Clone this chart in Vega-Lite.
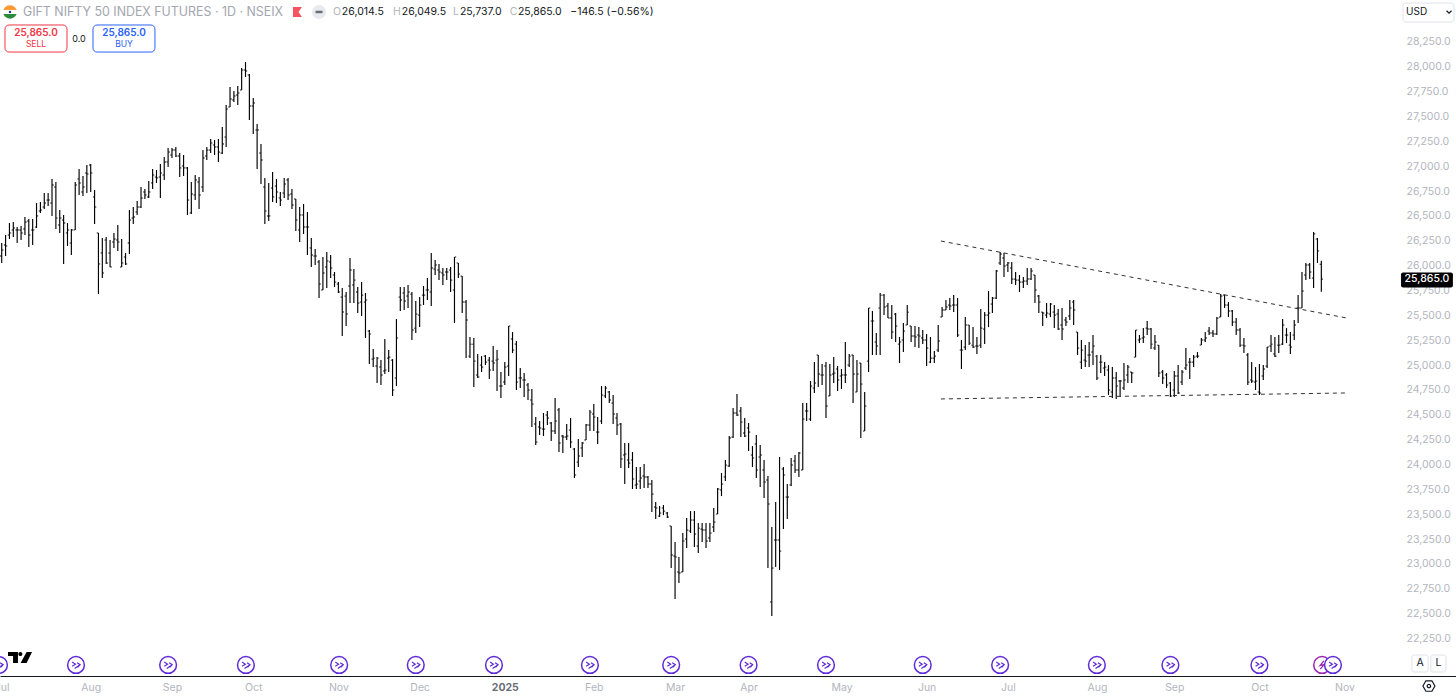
{"$schema":"https://vega.github.io/schema/vega-lite/v6.json","width":1456,"height":676,"autosize":{"type":"none"},"padding":{"left":0,"top":0,"right":0,"bottom":20},"background":"#ffffff","config":{"font":"Inter","view":{"stroke":null}},
"datasets":{"ohlc":[
{"i":0,"o":26097,"h":26228,"l":26027,"c":26158},{"i":1,"o":26208,"h":26308,"l":26097,"c":26198},{"i":2,"o":26308,"h":26429,"l":26268,"c":26329},{"i":3,"o":26359,"h":26439,"l":26288,"c":26379},{"i":4,"o":26359,"h":26389,"l":26228,"c":26359},{"i":5,"o":26359,"h":26399,"l":26258,"c":26329},{"i":6,"o":26369,"h":26490,"l":26308,"c":26439},{"i":7,"o":26449,"h":26469,"l":26188,"c":26308},{"i":8,"o":26359,"h":26469,"l":26208,"c":26359},{"i":9,"o":26389,"h":26630,"l":26379,"c":26500},
{"i":10,"o":26550,"h":26640,"l":26530,"c":26560},{"i":11,"o":26590,"h":26731,"l":26570,"c":26630},{"i":12,"o":26660,"h":26731,"l":26600,"c":26660},{"i":13,"o":26630,"h":26872,"l":26500,"c":26812},{"i":14,"o":26791,"h":26842,"l":26369,"c":26479},{"i":15,"o":26409,"h":26560,"l":26329,"c":26479},{"i":16,"o":26459,"h":26510,"l":26017,"c":26429},{"i":17,"o":26329,"h":26429,"l":26198,"c":26359},{"i":18,"o":26228,"h":26369,"l":26107,"c":26359},{"i":19,"o":26359,"h":26842,"l":26359,"c":26812},
{"i":20,"o":26872,"h":26973,"l":26711,"c":26832},{"i":21,"o":26741,"h":26902,"l":26701,"c":26791},{"i":22,"o":26932,"h":27013,"l":26731,"c":26922},{"i":23,"o":27013,"h":27023,"l":26741,"c":26932},{"i":24,"o":26691,"h":26761,"l":26419,"c":26590},{"i":25,"o":26329,"h":26329,"l":25715,"c":26017},{"i":26,"o":26128,"h":26278,"l":25876,"c":25926},{"i":27,"o":26258,"h":26288,"l":26017,"c":26027},{"i":28,"o":26128,"h":26258,"l":25986,"c":25986},{"i":29,"o":26238,"h":26329,"l":26178,"c":26268},
{"i":30,"o":26258,"h":26409,"l":26148,"c":26238},{"i":31,"o":25986,"h":26268,"l":25986,"c":26027},{"i":32,"o":26087,"h":26128,"l":26007,"c":26017},{"i":33,"o":26228,"h":26560,"l":26117,"c":26459},{"i":34,"o":26479,"h":26590,"l":26419,"c":26490},{"i":35,"o":26540,"h":26650,"l":26510,"c":26590},{"i":36,"o":26590,"h":26791,"l":26580,"c":26681},{"i":37,"o":26741,"h":26771,"l":26671,"c":26711},{"i":38,"o":26691,"h":26852,"l":26681,"c":26741},{"i":39,"o":26832,"h":26973,"l":26771,"c":26912},
{"i":40,"o":26892,"h":26962,"l":26832,"c":26882},{"i":41,"o":26892,"h":27023,"l":26681,"c":26932},{"i":42,"o":26912,"h":27093,"l":26862,"c":27043},{"i":43,"o":27043,"h":27184,"l":26993,"c":27143},{"i":44,"o":27113,"h":27184,"l":27083,"c":27163},{"i":45,"o":27163,"h":27194,"l":27093,"c":27103},{"i":46,"o":27103,"h":27133,"l":26892,"c":26983},{"i":47,"o":27003,"h":27113,"l":26902,"c":26983},{"i":48,"o":26983,"h":26993,"l":26510,"c":26660},{"i":49,"o":26530,"h":26842,"l":26520,"c":26721},
{"i":50,"o":26711,"h":26912,"l":26660,"c":26862},{"i":51,"o":26842,"h":26892,"l":26570,"c":26711},{"i":52,"o":26791,"h":27163,"l":26741,"c":27083},{"i":53,"o":27103,"h":27194,"l":27063,"c":27163},{"i":54,"o":27163,"h":27274,"l":27133,"c":27234},{"i":55,"o":27214,"h":27264,"l":27113,"c":27194},{"i":56,"o":27194,"h":27274,"l":27043,"c":27143},{"i":57,"o":27133,"h":27395,"l":27123,"c":27224},{"i":58,"o":27294,"h":27616,"l":27194,"c":27576},{"i":59,"o":27596,"h":27797,"l":27596,"c":27677},
{"i":60,"o":27666,"h":27757,"l":27646,"c":27707},{"i":61,"o":27717,"h":27807,"l":27616,"c":27737},{"i":62,"o":27767,"h":27988,"l":27767,"c":27968},{"i":63,"o":27968,"h":28049,"l":27898,"c":27958},{"i":64,"o":27918,"h":27928,"l":27465,"c":27606},{"i":65,"o":27606,"h":27687,"l":27324,"c":27636},{"i":66,"o":27365,"h":27425,"l":26973,"c":27365},{"i":67,"o":27133,"h":27224,"l":26822,"c":27063},{"i":68,"o":26791,"h":26882,"l":26419,"c":26550},{"i":69,"o":26500,"h":26832,"l":26449,"c":26500},
{"i":70,"o":26781,"h":26942,"l":26640,"c":26691},{"i":71,"o":26801,"h":26872,"l":26630,"c":26741},{"i":72,"o":26681,"h":26741,"l":26600,"c":26660},{"i":73,"o":26731,"h":26882,"l":26681,"c":26822},{"i":74,"o":26862,"h":26882,"l":26660,"c":26711},{"i":75,"o":26721,"h":26771,"l":26570,"c":26610},{"i":76,"o":26671,"h":26671,"l":26349,"c":26459},{"i":77,"o":26359,"h":26590,"l":26238,"c":26510},{"i":78,"o":26510,"h":26620,"l":26319,"c":26389},{"i":79,"o":26389,"h":26540,"l":26107,"c":26389},
{"i":80,"o":26178,"h":26278,"l":25986,"c":26107},{"i":81,"o":26097,"h":26168,"l":26007,"c":26097},{"i":82,"o":26037,"h":26057,"l":25675,"c":25815},{"i":83,"o":25755,"h":26087,"l":25755,"c":25926},{"i":84,"o":25986,"h":26138,"l":25775,"c":26047},{"i":85,"o":26037,"h":26107,"l":25875,"c":25976},{"i":86,"o":25906,"h":25936,"l":25785,"c":25835},{"i":87,"o":25815,"h":25835,"l":25725,"c":25735},{"i":88,"o":25684,"h":25775,"l":25292,"c":25534},{"i":89,"o":25694,"h":25735,"l":25393,"c":25513},
{"i":90,"o":25795,"h":26077,"l":25624,"c":25956},{"i":91,"o":25805,"h":25966,"l":25624,"c":25855},{"i":92,"o":25735,"h":25785,"l":25523,"c":25624},{"i":93,"o":25634,"h":25835,"l":25493,"c":25704},{"i":94,"o":25634,"h":25725,"l":25272,"c":25654},{"i":95,"o":25342,"h":25352,"l":25010,"c":25312},{"i":96,"o":25060,"h":25161,"l":24980,"c":25070},{"i":97,"o":24990,"h":25080,"l":24819,"c":25070},{"i":98,"o":24980,"h":25050,"l":24799,"c":24900},{"i":99,"o":24940,"h":25262,"l":24910,"c":24950},
{"i":100,"o":25070,"h":25151,"l":24930,"c":25080},{"i":101,"o":25050,"h":25060,"l":24689,"c":24749},{"i":102,"o":24870,"h":25463,"l":24789,"c":25272},{"i":103,"o":25684,"h":25785,"l":25544,"c":25654},{"i":104,"o":25725,"h":25785,"l":25554,"c":25644},{"i":105,"o":25694,"h":25805,"l":25574,"c":25735},{"i":106,"o":25714,"h":25735,"l":25252,"c":25352},{"i":107,"o":25372,"h":25644,"l":25322,"c":25513},{"i":108,"o":25503,"h":25684,"l":25382,"c":25604},{"i":109,"o":25704,"h":25795,"l":25604,"c":25704},
{"i":110,"o":25755,"h":25875,"l":25654,"c":25755},{"i":111,"o":25735,"h":26128,"l":25594,"c":25976},{"i":112,"o":25966,"h":26057,"l":25906,"c":26007},{"i":113,"o":25956,"h":26017,"l":25855,"c":25936},{"i":114,"o":25926,"h":25976,"l":25805,"c":25906},{"i":115,"o":25936,"h":25976,"l":25855,"c":25936},{"i":116,"o":25956,"h":25986,"l":25735,"c":25855},{"i":117,"o":25755,"h":26087,"l":25423,"c":26087},{"i":118,"o":26027,"h":26027,"l":25875,"c":25916},{"i":119,"o":25895,"h":25895,"l":25523,"c":25634},
{"i":120,"o":25634,"h":25654,"l":25070,"c":25453},{"i":121,"o":25090,"h":25282,"l":25070,"c":25211},{"i":122,"o":25211,"h":25272,"l":24779,"c":25040},{"i":123,"o":24900,"h":25111,"l":24870,"c":24880},{"i":124,"o":25000,"h":25090,"l":24930,"c":24980},{"i":125,"o":25090,"h":25101,"l":25000,"c":25030},{"i":126,"o":25050,"h":25080,"l":24860,"c":24950},{"i":127,"o":25040,"h":25191,"l":24940,"c":25020},{"i":128,"o":25050,"h":25151,"l":24739,"c":25060},{"i":129,"o":24789,"h":24930,"l":24668,"c":24789},
{"i":130,"o":24829,"h":25030,"l":24799,"c":24980},{"i":131,"o":24990,"h":25393,"l":24890,"c":25393},{"i":132,"o":25262,"h":25332,"l":25121,"c":25151},{"i":133,"o":25211,"h":25242,"l":24749,"c":24829},{"i":134,"o":24870,"h":24970,"l":24769,"c":24870},{"i":135,"o":24850,"h":24920,"l":24678,"c":24850},{"i":136,"o":24799,"h":24819,"l":24648,"c":24749},{"i":137,"o":24648,"h":24759,"l":24377,"c":24608},{"i":138,"o":24407,"h":24477,"l":24196,"c":24226},{"i":139,"o":24377,"h":24437,"l":24296,"c":24367},
{"i":140,"o":24356,"h":24518,"l":24286,"c":24356},{"i":141,"o":24497,"h":24537,"l":24397,"c":24467},{"i":142,"o":24417,"h":24427,"l":24236,"c":24336},{"i":143,"o":24336,"h":24668,"l":24306,"c":24437},{"i":144,"o":24548,"h":24568,"l":24125,"c":24216},{"i":145,"o":24286,"h":24296,"l":24115,"c":24276},{"i":146,"o":24276,"h":24407,"l":24246,"c":24286},{"i":147,"o":24346,"h":24467,"l":24166,"c":24226},{"i":148,"o":24155,"h":24166,"l":23864,"c":23894},{"i":149,"o":24024,"h":24256,"l":23974,"c":24085},
{"i":150,"o":24166,"h":24226,"l":24075,"c":24216},{"i":151,"o":24246,"h":24407,"l":24246,"c":24397},{"i":152,"o":24397,"h":24548,"l":24336,"c":24527},{"i":153,"o":24507,"h":24608,"l":24336,"c":24477},{"i":154,"o":24326,"h":24477,"l":24206,"c":24326},{"i":155,"o":24437,"h":24789,"l":24407,"c":24699},{"i":156,"o":24689,"h":24789,"l":24668,"c":24769},{"i":157,"o":24729,"h":24739,"l":24618,"c":24648},{"i":158,"o":24618,"h":24699,"l":24407,"c":24507},{"i":159,"o":24467,"h":24518,"l":24296,"c":24397},
{"i":160,"o":24407,"h":24417,"l":23964,"c":24055},{"i":161,"o":24095,"h":24216,"l":23803,"c":24105},{"i":162,"o":24045,"h":24216,"l":23964,"c":24014},{"i":163,"o":24045,"h":24125,"l":23753,"c":23854},{"i":164,"o":23793,"h":23974,"l":23753,"c":23803},{"i":165,"o":23833,"h":23974,"l":23753,"c":23864},{"i":166,"o":23884,"h":24004,"l":23763,"c":23874},{"i":167,"o":23874,"h":23884,"l":23763,"c":23803},{"i":168,"o":23803,"h":23843,"l":23521,"c":23702},{"i":169,"o":23572,"h":23622,"l":23451,"c":23562},
{"i":170,"o":23481,"h":23582,"l":23471,"c":23511},{"i":171,"o":23562,"h":23592,"l":23491,"c":23531},{"i":172,"o":23511,"h":23521,"l":23461,"c":23471},{"i":173,"o":23381,"h":23381,"l":22958,"c":23089},{"i":174,"o":23079,"h":23220,"l":22646,"c":23069},{"i":175,"o":22918,"h":23069,"l":22807,"c":22908},{"i":176,"o":22918,"h":23310,"l":22918,"c":23230},{"i":177,"o":23250,"h":23461,"l":23159,"c":23340},{"i":178,"o":23330,"h":23531,"l":23310,"c":23441},{"i":179,"o":23441,"h":23531,"l":23169,"c":23300},
{"i":180,"o":23179,"h":23411,"l":23109,"c":23360},{"i":181,"o":23350,"h":23411,"l":23220,"c":23340},{"i":182,"o":23340,"h":23411,"l":23159,"c":23230},{"i":183,"o":23260,"h":23411,"l":23220,"c":23310},{"i":184,"o":23371,"h":23562,"l":23320,"c":23421},{"i":185,"o":23501,"h":23763,"l":23501,"c":23753},{"i":186,"o":23743,"h":23914,"l":23682,"c":23803},{"i":187,"o":23874,"h":24045,"l":23833,"c":23994},{"i":188,"o":23984,"h":24286,"l":23974,"c":24266},{"i":189,"o":24276,"h":24568,"l":24266,"c":24518},
{"i":190,"o":24518,"h":24709,"l":24487,"c":24497},{"i":191,"o":24538,"h":24578,"l":24276,"c":24427},{"i":192,"o":24316,"h":24467,"l":24276,"c":24286},{"i":193,"o":24367,"h":24417,"l":24135,"c":24326},{"i":194,"o":24095,"h":24185,"l":23974,"c":24065},{"i":195,"o":24206,"h":24296,"l":23864,"c":23944},{"i":196,"o":24075,"h":24196,"l":23773,"c":24095},{"i":197,"o":23944,"h":24045,"l":23662,"c":23823},{"i":198,"o":23843,"h":23884,"l":22958,"c":23602},{"i":199,"o":22616,"h":23371,"l":22475,"c":22958},
{"i":200,"o":23240,"h":23622,"l":22968,"c":23240},{"i":201,"o":23240,"h":24075,"l":22938,"c":23129},{"i":202,"o":23954,"h":23974,"l":23350,"c":23894},{"i":203,"o":23672,"h":23803,"l":23451,"c":23672},{"i":204,"o":23793,"h":24065,"l":23783,"c":23994},{"i":205,"o":24035,"h":24095,"l":23914,"c":23944},{"i":206,"o":23944,"h":24125,"l":23874,"c":24115},{"i":207,"o":23944,"h":24618,"l":23944,"c":24457},{"i":208,"o":24538,"h":24618,"l":24437,"c":24538},{"i":209,"o":24457,"h":24839,"l":24437,"c":24789},
{"i":210,"o":24769,"h":25030,"l":24719,"c":24819},{"i":211,"o":25101,"h":25101,"l":24779,"c":24910},{"i":212,"o":24900,"h":25010,"l":24799,"c":24900},{"i":213,"o":24990,"h":25030,"l":24467,"c":24588},{"i":214,"o":24689,"h":25010,"l":24689,"c":24900},{"i":215,"o":24910,"h":25080,"l":24819,"c":24920},{"i":216,"o":24960,"h":24990,"l":24739,"c":24850},{"i":217,"o":24890,"h":24960,"l":24759,"c":24900},{"i":218,"o":24900,"h":25232,"l":24819,"c":24900},{"i":219,"o":25000,"h":25111,"l":24980,"c":25090},
{"i":220,"o":25101,"h":25101,"l":24618,"c":24910},{"i":221,"o":24729,"h":25050,"l":24729,"c":24910},{"i":222,"o":25020,"h":25020,"l":24266,"c":24809},{"i":223,"o":24336,"h":24729,"l":24336,"c":24588},{"i":224,"o":25040,"h":25574,"l":24930,"c":25574},{"i":225,"o":25443,"h":25544,"l":25101,"c":25443},{"i":226,"o":25232,"h":25322,"l":25101,"c":25191},{"i":227,"o":25574,"h":25725,"l":25101,"c":25704},{"i":228,"o":25704,"h":25714,"l":25503,"c":25584},{"i":229,"o":25594,"h":25624,"l":25473,"c":25473},
{"i":230,"o":25473,"h":25604,"l":25262,"c":25332},{"i":231,"o":25513,"h":25523,"l":25232,"c":25393},{"i":232,"o":25211,"h":25282,"l":25020,"c":25232},{"i":233,"o":25252,"h":25423,"l":25131,"c":25342},{"i":234,"o":25403,"h":25604,"l":25403,"c":25533},{"i":235,"o":25393,"h":25393,"l":25232,"c":25292},{"i":236,"o":25292,"h":25393,"l":25181,"c":25282},{"i":237,"o":25302,"h":25382,"l":25171,"c":25292},{"i":238,"o":25272,"h":25352,"l":25211,"c":25252},{"i":239,"o":25252,"h":25312,"l":24990,"c":25171},
{"i":240,"o":25030,"h":25282,"l":25020,"c":25070},{"i":241,"o":25070,"h":25141,"l":25020,"c":25090},{"i":242,"o":25151,"h":25403,"l":25131,"c":25242},{"i":243,"o":25483,"h":25584,"l":25483,"c":25554},{"i":244,"o":25554,"h":25654,"l":25554,"c":25584},{"i":245,"o":25604,"h":25674,"l":25554,"c":25594},{"i":246,"o":25604,"h":25704,"l":25533,"c":25604},{"i":247,"o":25604,"h":25674,"l":25282,"c":25302},{"i":248,"o":25151,"h":25252,"l":24960,"c":25151},{"i":249,"o":25181,"h":25483,"l":25151,"c":25403},
{"i":250,"o":25403,"h":25403,"l":25201,"c":25221},{"i":251,"o":25201,"h":25382,"l":25171,"c":25181},{"i":252,"o":25191,"h":25282,"l":25111,"c":25191},{"i":253,"o":25201,"h":25564,"l":25171,"c":25372},{"i":254,"o":25362,"h":25533,"l":25211,"c":25503},{"i":255,"o":25503,"h":25745,"l":25382,"c":25523},{"i":256,"o":25614,"h":25684,"l":25523,"c":25674},{"i":257,"o":25674,"h":25956,"l":25664,"c":25946},{"i":258,"o":26027,"h":26138,"l":26007,"c":26117},{"i":259,"o":26077,"h":26128,"l":25885,"c":25996},
{"i":260,"o":26007,"h":26037,"l":25936,"c":26027},{"i":261,"o":25976,"h":26037,"l":25815,"c":25865},{"i":262,"o":25865,"h":25936,"l":25805,"c":25855},{"i":263,"o":25855,"h":25906,"l":25735,"c":25835},{"i":264,"o":25835,"h":25885,"l":25775,"c":25845},{"i":265,"o":25845,"h":25976,"l":25805,"c":25865},{"i":266,"o":25865,"h":25976,"l":25855,"c":25946},{"i":267,"o":25906,"h":25906,"l":25624,"c":25755},{"i":268,"o":25694,"h":25704,"l":25523,"c":25634},{"i":269,"o":25533,"h":25533,"l":25393,"c":25523},
{"i":270,"o":25503,"h":25624,"l":25473,"c":25523},{"i":271,"o":25513,"h":25624,"l":25483,"c":25614},{"i":272,"o":25533,"h":25604,"l":25372,"c":25503},{"i":273,"o":25513,"h":25564,"l":25352,"c":25362},{"i":274,"o":25403,"h":25574,"l":25252,"c":25362},{"i":275,"o":25453,"h":25483,"l":25393,"c":25433},{"i":276,"o":25493,"h":25654,"l":25453,"c":25574},{"i":277,"o":25634,"h":25654,"l":25403,"c":25554},{"i":278,"o":25332,"h":25332,"l":25101,"c":25171},{"i":279,"o":25030,"h":25252,"l":24960,"c":25151},
{"i":280,"o":25050,"h":25201,"l":24980,"c":25040},{"i":281,"o":25101,"h":25232,"l":24980,"c":25101},{"i":282,"o":25131,"h":25302,"l":25000,"c":25191},{"i":283,"o":25090,"h":25101,"l":24850,"c":24870},{"i":284,"o":25030,"h":25101,"l":24920,"c":25030},{"i":285,"o":24970,"h":25030,"l":24890,"c":24980},{"i":286,"o":24950,"h":25000,"l":24699,"c":24749},{"i":287,"o":24729,"h":24980,"l":24668,"c":24870},{"i":288,"o":24870,"h":24930,"l":24658,"c":24789},{"i":289,"o":24839,"h":24850,"l":24678,"c":24839},
{"i":290,"o":24769,"h":25020,"l":24749,"c":24850},{"i":291,"o":24900,"h":25000,"l":24819,"c":24980},{"i":292,"o":24930,"h":24930,"l":24819,"c":24920},{"i":293,"o":25080,"h":25352,"l":25080,"c":25352},{"i":294,"o":25252,"h":25302,"l":25221,"c":25262},{"i":295,"o":25272,"h":25372,"l":25221,"c":25282},{"i":296,"o":25372,"h":25443,"l":25302,"c":25362},{"i":297,"o":25362,"h":25372,"l":25161,"c":25211},{"i":298,"o":25171,"h":25302,"l":25151,"c":25232},{"i":299,"o":25201,"h":25201,"l":24880,"c":24920},
{"i":300,"o":24930,"h":24950,"l":24809,"c":24870},{"i":301,"o":24900,"h":24920,"l":24769,"c":24799},{"i":302,"o":24819,"h":24829,"l":24678,"c":24689},{"i":303,"o":24749,"h":24940,"l":24678,"c":24890},{"i":304,"o":24890,"h":25000,"l":24709,"c":24719},{"i":305,"o":24829,"h":24950,"l":24799,"c":24930},{"i":306,"o":24970,"h":25171,"l":24950,"c":25000},{"i":307,"o":25030,"h":25070,"l":24860,"c":25030},{"i":308,"o":25030,"h":25101,"l":24980,"c":25080},{"i":309,"o":25090,"h":25131,"l":25070,"c":25090},
{"i":310,"o":25201,"h":25272,"l":25201,"c":25252},{"i":311,"o":25252,"h":25332,"l":25232,"c":25272},{"i":312,"o":25342,"h":25382,"l":25302,"c":25322},{"i":313,"o":25322,"h":25352,"l":25282,"c":25312},{"i":314,"o":25312,"h":25483,"l":25302,"c":25473},{"i":315,"o":25483,"h":25714,"l":25483,"c":25694},{"i":316,"o":25704,"h":25704,"l":25574,"c":25604},{"i":317,"o":25604,"h":25634,"l":25483,"c":25544},{"i":318,"o":25544,"h":25554,"l":25393,"c":25433},{"i":319,"o":25433,"h":25473,"l":25302,"c":25352},
{"i":320,"o":25352,"h":25372,"l":25181,"c":25201},{"i":321,"o":25201,"h":25272,"l":25121,"c":25191},{"i":322,"o":25101,"h":25121,"l":24799,"c":24829},{"i":323,"o":24850,"h":25030,"l":24819,"c":24839},{"i":324,"o":24829,"h":24980,"l":24749,"c":24839},{"i":325,"o":24729,"h":25010,"l":24699,"c":24719},{"i":326,"o":24890,"h":25000,"l":24850,"c":24960},{"i":327,"o":24990,"h":25181,"l":24970,"c":25181},{"i":328,"o":25191,"h":25302,"l":25131,"c":25211},{"i":329,"o":25111,"h":25282,"l":25080,"c":25090},
{"i":330,"o":25201,"h":25302,"l":25121,"c":25201},{"i":331,"o":25211,"h":25463,"l":25201,"c":25403},{"i":332,"o":25302,"h":25372,"l":25221,"c":25302},{"i":333,"o":25201,"h":25332,"l":25111,"c":25181},{"i":334,"o":25302,"h":25453,"l":25252,"c":25403},{"i":335,"o":25574,"h":25704,"l":25423,"c":25574},{"i":336,"o":25574,"h":25936,"l":25574,"c":25745},{"i":337,"o":25906,"h":26027,"l":25855,"c":26007},{"i":338,"o":26007,"h":26027,"l":25865,"c":25936},{"i":339,"o":25875,"h":26339,"l":25775,"c":26319},
{"i":340,"o":26268,"h":26278,"l":26027,"c":26148},{"i":341,"o":26014.5,"h":26049.5,"l":25737,"c":25865}],
"trend":[{"line":"upper","bar":242.7,"price":26248},{"line":"upper","bar":347.6,"price":25473},{"line":"lower","bar":242.7,"price":24659},{"line":"lower","bar":347.1,"price":24719}],
"events":[{"bar":-0.7},{"bar":19.2},{"bar":43},{"bar":63.1},{"bar":87.2},{"bar":107},{"bar":127.2},{"bar":152},{"bar":173},{"bar":193},{"bar":213},{"bar":238},{"bar":258},{"bar":283},{"bar":302},{"bar":325},{"bar":344}]},
"layer":[
{"data":{"name":"ohlc"},"mark":{"type":"rule","color":"#000000","strokeWidth":1.15},"encoding":{"x":{"field":"i","type":"quantitative","scale":{"domain":[-0.44,375.8],"nice":false,"zero":false},"axis":{"title":null,"orient":"bottom","grid":false,"ticks":false,"domain":true,"domainColor":"#131722","domainWidth":1,"labelColor":{"condition":{"test":"datum.value===130","value":"#6a6d78"},"value":"#b2b5be"},"labelFontWeight":{"condition":{"test":"datum.value===130","value":"bold"},"value":"normal"},"labelFontSize":10.5,"labelPadding":6,"labelOverlap":false,"labelFlush":false,"labelBound":false,"tickCount":17,"values":[0,23,44,65,87,108,130,153,174,193,217,239,260,283,303,325,347],"labelExpr":"{'0':'Jul','23':'Aug','44':'Sep','65':'Oct','87':'Nov','108':'Dec','130':'2025','153':'Feb','174':'Mar','193':'Apr','217':'May','239':'Jun','260':'Jul','283':'Aug','303':'Sep','325':'Oct','347':'Nov'}[''+datum.value]"}},"y":{"field":"l","type":"quantitative","scale":{"domain":[21871.9,28672.5],"nice":false,"zero":false},"axis":{"title":null,"orient":"right","offset":-56,"grid":false,"ticks":false,"domain":false,"labelColor":"#b2b5be","labelFontSize":10.5,"labelPadding":6,"labelAlign":"left","labelOverlap":false,"format":",.1f","tickCount":25,"values":[22250,22500,22750,23000,23250,23500,23750,24000,24250,24500,24750,25000,25250,25500,25750,26000,26250,26500,26750,27000,27250,27500,27750,28000,28250]}},"y2":{"field":"h"}}},
{"data":{"name":"ohlc"},"mark":{"type":"tick","orient":"horizontal","color":"#000000","size":1.6,"thickness":0.9,"xOffset":-0.9,"opacity":1},"encoding":{"x":{"field":"i","type":"quantitative"},"y":{"field":"o","type":"quantitative"}}},
{"data":{"name":"ohlc"},"mark":{"type":"tick","orient":"horizontal","color":"#000000","size":1.6,"thickness":0.9,"xOffset":0.9,"opacity":1},"encoding":{"x":{"field":"i","type":"quantitative"},"y":{"field":"c","type":"quantitative"}}},
{"data":{"name":"trend"},"mark":{"type":"line","color":"#333333","strokeWidth":1,"strokeDash":[4,4]},"encoding":{"x":{"field":"bar","type":"quantitative"},"y":{"field":"price","type":"quantitative"},"detail":{"field":"line"}}},
{"data":{"values":[{}]},"mark":{"type":"rect","color":"#000000","cornerRadius":2},"encoding":{"x":{"datum":361.6},"x2":{"datum":375},"y":{"datum":25931},"y2":{"datum":25780}}},
{"data":{"values":[{}]},"mark":{"type":"text","text":"25,865.0","color":"#ffffff","fontSize":10.5,"fontWeight":500},"encoding":{"x":{"datum":368.3},"y":{"datum":25865}}},
{"data":{"values":[{"bar":341.2}]},"mark":{"type":"point","shape":"circle","size":280,"fill":"#ffffff","stroke":"#9c27b0","strokeWidth":1.5,"opacity":1},"encoding":{"x":{"field":"bar","type":"quantitative"},"y":{"datum":21983}}},
{"data":{"values":[{"bar":341.2}]},"mark":{"type":"point","shape":"M0.3,-0.7 L-0.35,0.1 L0.35,-0.1 L-0.3,0.7","size":140,"filled":false,"stroke":"#9c27b0","strokeWidth":1.3,"opacity":1},"encoding":{"x":{"field":"bar","type":"quantitative"},"y":{"datum":21983}}},
{"data":{"name":"events"},"mark":{"type":"point","shape":"circle","size":280,"fill":"#ffffff","stroke":"#5f2bd8","strokeWidth":1.5,"opacity":1},"encoding":{"x":{"field":"bar","type":"quantitative"},"y":{"datum":21983}}},
{"data":{"name":"events"},"mark":{"type":"point","shape":"M-0.7,-0.55 L-0.1,-0.15 L-0.7,0.25 M-0.25,0.65 L0.75,-0.05 M0.2,-0.4 L0.75,-0.05 L0.35,0.4","size":120,"filled":false,"stroke":"#5f2bd8","strokeWidth":1.2,"opacity":1},"encoding":{"x":{"field":"bar","type":"quantitative"},"y":{"datum":21983}}},
{"data":{"values":[{}]},"mark":{"type":"point","shape":"M-1,-0.46 H-0.17 V0.46 H-0.58 V-0.12 H-1 Z M0.03,-0.46 a0.17,0.17 0 1 0 0.001,0 Z M0.55,-0.46 H1 L0.55,0.46 H0.05 Z","size":576,"filled":true,"color":"#000000","strokeWidth":0,"opacity":1},"encoding":{"x":{"datum":4.73},"y":{"datum":22058}}},
{"data":{"values":[{}]},"mark":{"type":"point","shape":"M-0.94,-0.3 A1,1 0 0 1 0.94,-0.3 Z","size":196,"filled":true,"color":"#ff9933","strokeWidth":0,"opacity":1},"encoding":{"x":{"datum":2.14},"y":{"datum":28552}}},
{"data":{"values":[{}]},"mark":{"type":"point","shape":"M-0.94,0.3 A1,1 0 0 0 0.94,0.3 Z","size":196,"filled":true,"color":"#2e8b3d","strokeWidth":0,"opacity":1},"encoding":{"x":{"datum":2.14},"y":{"datum":28552}}},
{"data":{"values":[{}]},"mark":{"type":"point","shape":"circle","size":6,"filled":true,"color":"#1a3a8a","opacity":1},"encoding":{"x":{"datum":2.14},"y":{"datum":28552}}},
{"data":{"values":[{}]},"mark":{"type":"text","text":"GIFT NIFTY 50 INDEX FUTURES · 1D · NSEIX","align":"left","color":"#a3a6af","fontSize":12.4},"encoding":{"x":{"datum":5.5},"y":{"datum":28552}}},
{"data":{"values":[{}]},"mark":{"type":"point","shape":"M-0.8,-1 H1 L0.3,0 L1,1 H-0.8 Z","size":100,"filled":true,"color":"#f7525f","strokeWidth":0,"opacity":1},"encoding":{"x":{"datum":76.3},"y":{"datum":28552}}},
{"data":{"values":[{}]},"mark":{"type":"point","shape":"circle","size":196,"filled":true,"color":"#e8eaef","opacity":1},"encoding":{"x":{"datum":82},"y":{"datum":28552}}},
{"data":{"values":[{}]},"mark":{"type":"point","shape":"M-1,-0.35 H1 V0.35 H-1 Z","size":49,"filled":true,"color":"#6a6d78","strokeWidth":0,"opacity":1},"encoding":{"x":{"datum":82},"y":{"datum":28552}}},
{"data":{"values":[{}]},"mark":{"type":"text","text":"O","align":"left","color":"#b2b5be","fontSize":10.5},"encoding":{"x":{"datum":85.6},"y":{"datum":28552}}},
{"data":{"values":[{}]},"mark":{"type":"text","text":"26,014.5","align":"left","color":"#131722","fontSize":10.5},"encoding":{"x":{"datum":87.9},"y":{"datum":28552}}},
{"data":{"values":[{}]},"mark":{"type":"text","text":"H","align":"left","color":"#b2b5be","fontSize":10.5},"encoding":{"x":{"datum":101.1},"y":{"datum":28552}}},
{"data":{"values":[{}]},"mark":{"type":"text","text":"26,049.5","align":"left","color":"#131722","fontSize":10.5},"encoding":{"x":{"datum":103.4},"y":{"datum":28552}}},
{"data":{"values":[{}]},"mark":{"type":"text","text":"L","align":"left","color":"#b2b5be","fontSize":10.5},"encoding":{"x":{"datum":116.6},"y":{"datum":28552}}},
{"data":{"values":[{}]},"mark":{"type":"text","text":"25,737.0","align":"left","color":"#131722","fontSize":10.5},"encoding":{"x":{"datum":118.4},"y":{"datum":28552}}},
{"data":{"values":[{}]},"mark":{"type":"text","text":"C","align":"left","color":"#b2b5be","fontSize":10.5},"encoding":{"x":{"datum":131.3},"y":{"datum":28552}}},
{"data":{"values":[{}]},"mark":{"type":"text","text":"25,865.0","align":"left","color":"#131722","fontSize":10.5},"encoding":{"x":{"datum":133.4},"y":{"datum":28552}}},
{"data":{"values":[{}]},"mark":{"type":"text","text":"−146.5 (−0.56%)","align":"left","color":"#131722","fontSize":10.5},"encoding":{"x":{"datum":146.9},"y":{"datum":28552}}},
{"data":{"values":[{}]},"mark":{"type":"rect","fill":"#ffffff","stroke":"#f23645","strokeWidth":1,"cornerRadius":4},"encoding":{"x":{"datum":0.85},"x2":{"datum":16.87},"y":{"datum":28421},"y2":{"datum":28149}}},
{"data":{"values":[{}]},"mark":{"type":"text","text":"25,865.0","color":"#f23645","fontSize":10,"fontWeight":600},"encoding":{"x":{"datum":8.86},"y":{"datum":28340}}},
{"data":{"values":[{}]},"mark":{"type":"text","text":"SELL","color":"#f23645","fontSize":8.5},"encoding":{"x":{"datum":8.86},"y":{"datum":28230}}},
{"data":{"values":[{}]},"mark":{"type":"text","text":"0.0","color":"#131722","fontSize":9},"encoding":{"x":{"datum":19.97},"y":{"datum":28280}}},
{"data":{"values":[{}]},"mark":{"type":"rect","fill":"#ffffff","stroke":"#2962ff","strokeWidth":1,"cornerRadius":4},"encoding":{"x":{"datum":23.59},"x2":{"datum":39.6},"y":{"datum":28421},"y2":{"datum":28149}}},
{"data":{"values":[{}]},"mark":{"type":"text","text":"25,865.0","color":"#2962ff","fontSize":10,"fontWeight":600},"encoding":{"x":{"datum":31.6},"y":{"datum":28340}}},
{"data":{"values":[{}]},"mark":{"type":"text","text":"BUY","color":"#2962ff","fontSize":8.5},"encoding":{"x":{"datum":31.6},"y":{"datum":28230}}},
{"data":{"values":[{}]},"mark":{"type":"rect","fill":"#ffffff","stroke":"#e0e3eb","strokeWidth":1,"cornerRadius":3},"encoding":{"x":{"datum":362.1},"x2":{"datum":375.3},"y":{"datum":28642},"y2":{"datum":28451}}},
{"data":{"values":[{}]},"mark":{"type":"text","text":"USD","align":"left","color":"#131722","fontSize":10},"encoding":{"x":{"datum":362.9},"y":{"datum":28552}}},
{"data":{"values":[{}]},"mark":{"type":"point","shape":"M-1,-0.5 L0,0.5 L1,-0.5","size":25,"filled":false,"stroke":"#131722","strokeWidth":1.2,"opacity":1},"encoding":{"x":{"datum":374},"y":{"datum":28552}}},
{"data":{"values":[{}]},"mark":{"type":"rect","fill":"#ffffff","stroke":"#e0e3eb","strokeWidth":1,"cornerRadius":2},"encoding":{"x":{"datum":364.4},"x2":{"datum":368.6},"y":{"datum":22083},"y2":{"datum":21912}}},
{"data":{"values":[{}]},"mark":{"type":"text","text":"A","color":"#131722","fontSize":10.5},"encoding":{"x":{"datum":366.5},"y":{"datum":21998}}},
{"data":{"values":[{}]},"mark":{"type":"rect","fill":"#ffffff","stroke":"#e0e3eb","strokeWidth":1,"cornerRadius":2},"encoding":{"x":{"datum":369.3},"x2":{"datum":373.2},"y":{"datum":22083},"y2":{"datum":21912}}},
{"data":{"values":[{}]},"mark":{"type":"text","text":"L","color":"#131722","fontSize":10.5},"encoding":{"x":{"datum":371.3},"y":{"datum":21998}}},
{"data":{"values":[{}]},"mark":{"type":"point","shape":"M-0.5,-0.87 L0.5,-0.87 L1,0 L0.5,0.87 L-0.5,0.87 L-1,0 Z","size":144,"filled":false,"stroke":"#131722","strokeWidth":1.2,"opacity":1},"encoding":{"x":{"datum":368.8},"y":{"datum":21771}}},
{"data":{"values":[{}]},"mark":{"type":"point","shape":"circle","size":12,"filled":false,"stroke":"#131722","strokeWidth":1.2,"opacity":1},"encoding":{"x":{"datum":368.8},"y":{"datum":21771}}}
]}
